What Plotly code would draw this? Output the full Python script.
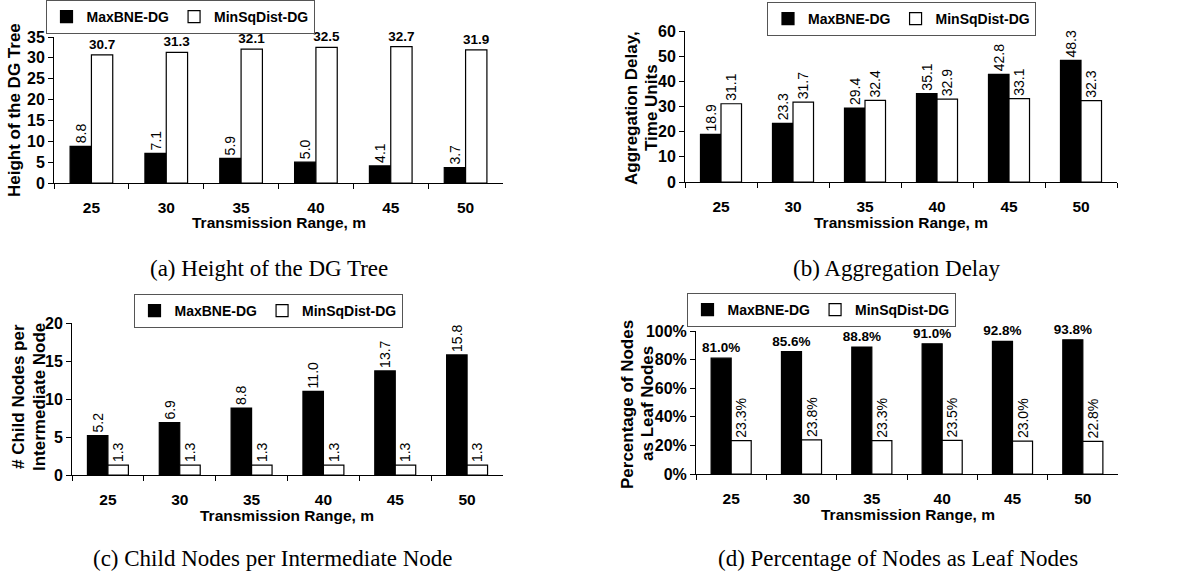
import plotly.graph_objects as go

# ---------------- data ----------------
ranges = ["25", "30", "35", "40", "45", "50"]
series_names = ["MaxBNE-DG", "MinSqDist-DG"]

height_maxbne = [8.8, 7.1, 5.9, 5.0, 4.1, 3.7]
height_minsq = [30.7, 31.3, 32.1, 32.5, 32.7, 31.9]

delay_maxbne = [18.9, 23.3, 29.4, 35.1, 42.8, 48.3]
delay_minsq = [31.1, 31.7, 32.4, 32.9, 33.1, 32.3]

child_maxbne = [5.2, 6.9, 8.8, 11.0, 13.7, 15.8]
child_minsq = [1.3, 1.3, 1.3, 1.3, 1.3, 1.3]

leaf_maxbne = [0.810, 0.856, 0.888, 0.910, 0.928, 0.938]
leaf_minsq = [0.233, 0.238, 0.233, 0.235, 0.230, 0.228]

captions = ["(a) Height of the DG Tree", "(b) Aggregation Delay",
            "(c) Child Nodes per Intermediate Node",
            "(d) Percentage of Nodes as Leaf Nodes"]
ytitles = [["Height of the DG Tree"],
           ["Aggregation Delay,", "Time Units"],
           ["# Child Nodes per", "Intermediate Node"],
           ["Percentage of Nodes", "as Leaf Nodes"]]
xtitle = "Transmission Range, m"

# ---------------- layout helpers ----------------
W, H = 1192, 572
SANS = "Liberation Sans, Arial, sans-serif"
SERIF = "Liberation Serif, Times New Roman, serif"


def px_x(p):
    return p / W


def px_y(p):
    return 1 - p / H


fig = go.Figure()

panels = [
    dict(b=height_maxbne, w=height_minsq, pct=False, ab=-90, aw=0, bb=False, bw=True,
         xd=(54, 503), yd=(37, 183), yr=[0, 35], dt=5, tf=None),
    dict(b=delay_maxbne, w=delay_minsq, pct=False, ab=-90, aw=-90, bb=False, bw=False,
         xd=(685, 1117), yd=(31, 182), yr=[0, 60], dt=10, tf=None),
    dict(b=child_maxbne, w=child_minsq, pct=False, ab=-90, aw=-90, bb=False, bw=False,
         xd=(72, 503), yd=(323, 475), yr=[0, 20], dt=5, tf=None),
    dict(b=leaf_maxbne, w=leaf_minsq, pct=True, ab=0, aw=-90, bb=True, bw=False,
         xd=(696, 1118), yd=(331, 474), yr=[0, 1], dt=0.2, tf=".0%"),
]

legend_pos = [(180, 17), (901.5, 19), (268, 311), (821, 310)]
ytitle_x = [[15], [632, 652], [18, 39], [627, 647]]
ytitle_y = [110, 108, 397, 404]
ytitle_size = [17, 17, 17, 17]
xtitle_pos = [(279, 222), (901, 222), (287, 515), (908, 514)]
caption_pos = [(269, 268), (896, 268), (273, 558), (898, 558)]

annotations = []
for i, p in enumerate(panels):
    n = i + 1
    xa = "x" if n == 1 else f"x{n}"
    ya = "y" if n == 1 else f"y{n}"
    lg = "legend" if n == 1 else f"legend{n}"

    def fmt(v):
        return f"{v * 100:.1f}%" if p["pct"] else f"{v:.1f}"

    for name, vals, color, ang, bold in [
        (series_names[0], p["b"], "#000000", p["ab"], p["bb"]),
        (series_names[1], p["w"], "#ffffff", p["aw"], p["bw"]),
    ]:
        fig.add_trace(go.Bar(
            x=ranges, y=vals, name=name, xaxis=xa, yaxis=ya, legend=lg,
            marker=dict(color=color, line=dict(color="#000000", width=1.2)),
            text=[fmt(v) for v in vals], textposition="outside",
            textangle=ang, constraintext="none", cliponaxis=False,
            textfont=dict(family=SANS, size=13.5 if bold else 14, color="#000000",
                          weight="bold" if bold else "normal"),
            showlegend=True,
        ))

    ax_common = dict(showline=True, linecolor="#000000", linewidth=1,
                     ticks="outside", ticklen=5, tickcolor="#000000",
                     showgrid=False, zeroline=False)
    tickfont = dict(family=SANS, size=16, color="#000000", weight="bold")
    fig.layout[f"xaxis{'' if n == 1 else n}"] = dict(
        ax_common, type="category", tickson="boundaries",
        tickfont=dict(tickfont, size=15.5),
        domain=[px_x(p["xd"][0]), px_x(p["xd"][1])], anchor=ya,
        ticklabelstandoff=10)
    yax = dict(ax_common, range=p["yr"], dtick=p["dt"], tickfont=tickfont,
               domain=[px_y(p["yd"][1]), px_y(p["yd"][0])], anchor=xa)
    if p["tf"]:
        yax["tickformat"] = p["tf"]
    fig.layout[f"yaxis{'' if n == 1 else n}"] = yax

    lx, ly = legend_pos[i]
    fig.layout[lg] = dict(
        orientation="h", x=px_x(lx), y=px_y(ly), xanchor="center", yanchor="middle",
        xref="paper", yref="paper",
        bordercolor="#555555", borderwidth=1, bgcolor="#ffffff",
        font=dict(family=SANS, size=14, color="#000000", weight="bold"),
        itemwidth=30, tracegroupgap=0,
    )

    for line, tx in zip(ytitles[i], ytitle_x[i]):
        annotations.append(dict(text=line, x=px_x(tx), y=px_y(ytitle_y[i]),
                                xref="paper", yref="paper",
                                showarrow=False, textangle=-90, xanchor="center", yanchor="middle",
                                font=dict(family=SANS, size=ytitle_size[i], color="#000000",
                                          weight="bold")))
    tx, ty = xtitle_pos[i]
    annotations.append(dict(text=xtitle, x=px_x(tx), y=px_y(ty), xref="paper", yref="paper",
                            showarrow=False, xanchor="center", yanchor="middle",
                            font=dict(family=SANS, size=15.5, color="#000000", weight="bold")))
    tx, ty = caption_pos[i]
    annotations.append(dict(text=captions[i], x=px_x(tx), y=px_y(ty), xref="paper", yref="paper",
                            showarrow=False, xanchor="center", yanchor="middle",
                            font=dict(family=SERIF, size=23, color="#000000")))

fig.update_layout(
    width=W, height=H,
    margin=dict(l=0, r=0, t=0, b=0, autoexpand=False),
    paper_bgcolor="#ffffff", plot_bgcolor="#ffffff",
    barmode="group", bargap=0.43, bargroupgap=0,
    annotations=annotations,
)

fig.write_html(
    "out.html",
    config={"displayModeBar": False},
    post_script="document.body.style.margin='0px';document.body.style.overflow='hidden';",
)
